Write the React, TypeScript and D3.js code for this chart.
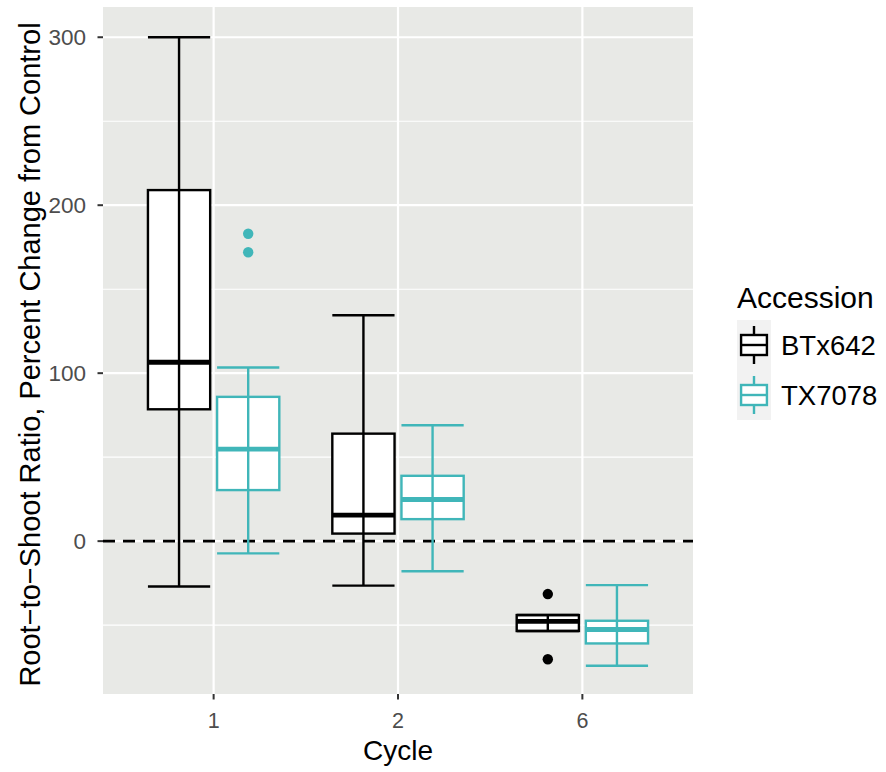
import React from "react";
import * as d3 from "d3";

// Cycles on the x axis and the two accessions compared within each cycle
const cycles = ["1", "2", "6"];
const accessions = ["BTx642", "TX7078"];
const accessionColors = ["#000000", "#40b6b9"];

// Box-plot summaries per cycle: [lower whisker, Q1, median, Q3, upper whisker]
const btx642Stats = [
  [-27, 78.5, 106.5, 209, 300],
  [-26.5, 4.5, 15.5, 64, 134.5],
  [-53.5, -53.5, -47.8, -44, -44],
];
const tx7078Stats = [
  [-7.3, 30.4, 54.8, 85.9, 103.4],
  [-17.9, 13.1, 24.8, 38.9, 69],
  [-74.2, -60.9, -52.6, -47.4, -26.2],
];

// Outlying observations per cycle
const btx642Outliers = [[], [], [-31.5, -70.3]];
const tx7078Outliers = [[172, 183], [], []];

const yTicks = [0, 100, 200, 300];
const yMinorTicks = [-50, 50, 150, 250];
const yDomain = [-91, 318];

const W = 886;
const H = 772;
const panel = { left: 103, right: 693, top: 7, bottom: 694 };
const font = "'Liberation Sans', Arial, Helvetica, sans-serif";

export default function App() {
  const x = d3
    .scalePoint<string>()
    .domain(cycles)
    .range([panel.left, panel.right])
    .padding(0.6);
  const y = d3.scaleLinear().domain(yDomain).range([panel.bottom, panel.top]);

  const step = x.step();
  const dodge = d3
    .scaleBand<string>()
    .domain(accessions)
    .range([-0.375 * step, 0.375 * step]);
  const boxW = dodge.bandwidth() * 0.9;

  const series = [
    { name: accessions[0], color: accessionColors[0], stats: btx642Stats, outliers: btx642Outliers },
    { name: accessions[1], color: accessionColors[1], stats: tx7078Stats, outliers: tx7078Outliers },
  ];

  const lw = 2.4;

  // Legend layout
  const legX = 737;
  const keyW = 34;
  const keyH = 50;
  const keyTop = 320;

  return (
    <svg width={W} height={H} style={{ display: "block", position: "absolute", left: 0, top: 0 }}>
      <rect x={0} y={0} width={W} height={H} fill="#ffffff" />
      {/* panel */}
      <rect
        x={panel.left}
        y={panel.top}
        width={panel.right - panel.left}
        height={panel.bottom - panel.top}
        fill="#E8E9E6"
      />
      {yMinorTicks.map((t) => (
        <line key={"mn" + t} x1={panel.left} x2={panel.right} y1={y(t)} y2={y(t)} stroke="#fff" strokeWidth={1.1} />
      ))}
      {yTicks.map((t) => (
        <line key={"mj" + t} x1={panel.left} x2={panel.right} y1={y(t)} y2={y(t)} stroke="#fff" strokeWidth={2.2} />
      ))}
      {cycles.map((c) => (
        <line key={"vx" + c} x1={x(c)} x2={x(c)} y1={panel.top} y2={panel.bottom} stroke="#fff" strokeWidth={2.2} />
      ))}

      {/* reference line at zero change */}
      <line
        x1={panel.left}
        x2={panel.right}
        y1={y(0)}
        y2={y(0)}
        stroke="#000"
        strokeWidth={2.6}
        strokeDasharray="12,8"
      />

      {/* boxes */}
      {series.map((s) =>
        cycles.map((c, i) => {
          const [lo, q1, med, q3, hi] = s.stats[i];
          const cx = (x(c) as number) + (dodge(s.name) as number) + dodge.bandwidth() / 2;
          const x0 = cx - boxW / 2;
          const x1 = cx + boxW / 2;
          return (
            <g key={s.name + c}>
              <rect x={x0} y={y(q3)} width={boxW} height={y(q1) - y(q3)} fill="#fff" stroke={s.color} strokeWidth={lw} />
              <line x1={x0} x2={x1} y1={y(med)} y2={y(med)} stroke={s.color} strokeWidth={lw * 2} />
              <line x1={cx} x2={cx} y1={y(lo)} y2={y(hi)} stroke={s.color} strokeWidth={lw} />
              <line x1={x0} x2={x1} y1={y(lo)} y2={y(lo)} stroke={s.color} strokeWidth={lw} />
              <line x1={x0} x2={x1} y1={y(hi)} y2={y(hi)} stroke={s.color} strokeWidth={lw} />
              {s.outliers[i].map((v, k) => (
                <circle key={k} cx={cx} cy={y(v)} r={5.2} fill={s.color} />
              ))}
            </g>
          );
        })
      )}

      {/* y axis */}
      {yTicks.map((t) => (
        <g key={"yt" + t}>
          <line x1={panel.left - 5.5} x2={panel.left} y1={y(t)} y2={y(t)} stroke="#333" strokeWidth={2} />
          <text
            x={panel.left - 17}
            y={y(t)}
            dy="0.36em"
            textAnchor="end"
            fontFamily={font}
            fontSize={22.5}
            fill="#4D4D4D"
          >
            {t}
          </text>
        </g>
      ))}
      <text
        transform={`translate(40,${(panel.top + panel.bottom) / 2 + 4}) rotate(-90)`}
        textAnchor="middle"
        fontFamily={font}
        fontSize={29}
        fill="#000"
      >
        Root−to−Shoot Ratio, Percent Change from Control
      </text>

      {/* x axis */}
      {cycles.map((c) => (
        <g key={"xt" + c}>
          <line x1={x(c)} x2={x(c)} y1={panel.bottom} y2={panel.bottom + 5.5} stroke="#333" strokeWidth={2} />
          <text x={x(c)} y={728} textAnchor="middle" fontFamily={font} fontSize={21.5} fill="#4D4D4D">
            {c}
          </text>
        </g>
      ))}
      <text
        x={(panel.left + panel.right) / 2}
        y={760}
        textAnchor="middle"
        fontFamily={font}
        fontSize={28}
        fill="#000"
      >
        Cycle
      </text>

      {/* legend */}
      <text x={legX} y={308} fontFamily={font} fontSize={30} fill="#000">
        Accession
      </text>
      {series.map((s, i) => {
        const top = keyTop + i * keyH;
        const cx = legX + keyW / 2;
        const bx0 = legX + keyW * 0.12;
        const bx1 = legX + keyW * 0.88;
        return (
          <g key={"lg" + s.name}>
            <rect x={legX} y={top} width={keyW} height={keyH} fill="#F2F2F2" />
            <line x1={cx} x2={cx} y1={top + keyH * 0.12} y2={top + keyH * 0.88} stroke={s.color} strokeWidth={lw} />
            <rect
              x={bx0}
              y={top + keyH * 0.3}
              width={bx1 - bx0}
              height={keyH * 0.4}
              fill="#fff"
              stroke={s.color}
              strokeWidth={lw}
            />
            <line x1={bx0} x2={bx1} y1={top + keyH / 2} y2={top + keyH / 2} stroke={s.color} strokeWidth={lw} />
            <text x={legX + keyW + 10} y={top + keyH / 2} dy="0.36em" fontFamily={font} fontSize={27.5} fill="#000">
              {s.name}
            </text>
          </g>
        );
      })}
    </svg>
  );
}
